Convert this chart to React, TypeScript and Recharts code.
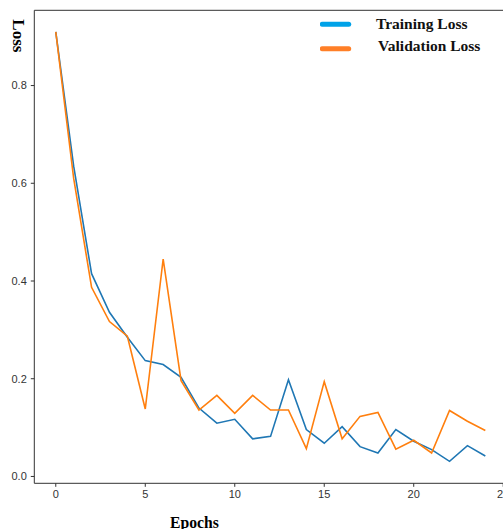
import React from 'react';
import { LineChart, Line, XAxis, YAxis, ReferenceLine } from 'recharts';

const epochs = [0,1,2,3,4,5,6,7,8,9,10,11,12,13,14,15,16,17,18,19,20,21,22,23,24];
const trainingLoss = [0.910,0.635,0.415,0.336,0.285,0.237,0.229,0.203,0.140,0.109,0.117,0.077,0.082,0.198,0.096,0.068,0.102,0.061,0.048,0.096,0.072,0.055,0.031,0.063,0.042];
const validationLoss = [0.910,0.610,0.387,0.317,0.287,0.138,0.445,0.196,0.136,0.166,0.129,0.166,0.136,0.136,0.057,0.194,0.077,0.123,0.131,0.056,0.074,0.048,0.135,0.113,0.094];
const xTicks = [0,5,10,15,20,25];
const yTicks = [0,0.2,0.4,0.6,0.8];
const seriesNames = ['Training Loss','Validation Loss'];
const legendColors = ['#00a2e8', '#ff7f27'];

const data = epochs.map((e, i) => ({ epoch: e, train: trainingLoss[i], val: validationLoss[i] }));

const X_DOMAIN: [number, number] = [-1.2, 25.2];
const Y_DOMAIN: [number, number] = [-0.014, 0.954];

const tickStyle = { fontFamily: '"Liberation Sans", sans-serif', fontSize: 11, fill: '#333' };

const LegendOverlay = () => (
  <svg width={200} height={60} style={{ position: 'absolute', left: 320, top: 0, display: 'block' }}>
    <line x1={2.3} y1={24.3} x2={28.7} y2={24.3} stroke={legendColors[0]} strokeWidth={5} strokeLinecap="round" />
    <text x={56} y={28.5} fontFamily='"Liberation Serif", serif' fontWeight="bold" fontSize={15.5} fill="#111">{seriesNames[0]}</text>
    <line x1={2.3} y1={48.7} x2={28.7} y2={48.7} stroke={legendColors[1]} strokeWidth={5} strokeLinecap="round" />
    <text x={58} y={51} fontFamily='"Liberation Serif", serif' fontWeight="bold" fontSize={15.5} fill="#111">{seriesNames[1]}</text>
  </svg>
);

export default function App() {
  return (
    <div style={{ position: 'absolute', left: 0, top: 0, width: 503, height: 529, overflow: 'hidden', background: '#fff' }}>
      <LineChart width={520} height={529} data={data} margin={{ top: 10.3, right: 13.2, left: 0, bottom: 0 }}>
        <XAxis
          dataKey="epoch"
          type="number"
          domain={X_DOMAIN}
          allowDataOverflow
          ticks={xTicks}
          height={45.7}
          tickSize={3.5}
          tickMargin={3}
          stroke="#333"
          tick={tickStyle}
          label={() => (
            <text x={170} y={527.5} fontFamily='"Liberation Serif", serif' fontWeight="bold" fontSize={15.7} fill="#000">Epochs</text>
          )}
        />
        <YAxis
          type="number"
          domain={Y_DOMAIN}
          allowDataOverflow
          ticks={yTicks}
          width={34.3}
          tickSize={3.5}
          tickMargin={4}
          stroke="#333"
          tick={tickStyle}
          tickFormatter={(v: number) => v.toFixed(1)}
          label={() => (
            <text x={12.7} y={19.3} transform="rotate(90 12.7 19.3)" fontFamily='"Liberation Serif", serif' fontWeight="bold" fontSize={17} fill="#000">Loss</text>
          )}
        />
        <ReferenceLine y={Y_DOMAIN[1]} stroke="#333" strokeWidth={1} ifOverflow="visible" />
        <Line type="linear" dataKey="train" name={seriesNames[0]} stroke="#1f77b4" strokeWidth={1.6} dot={false} isAnimationActive={false} />
        <Line type="linear" dataKey="val" name={seriesNames[1]} stroke="#ff7f0e" strokeWidth={1.6} dot={false} isAnimationActive={false} />
      </LineChart>
      <LegendOverlay />
    </div>
  );
}
